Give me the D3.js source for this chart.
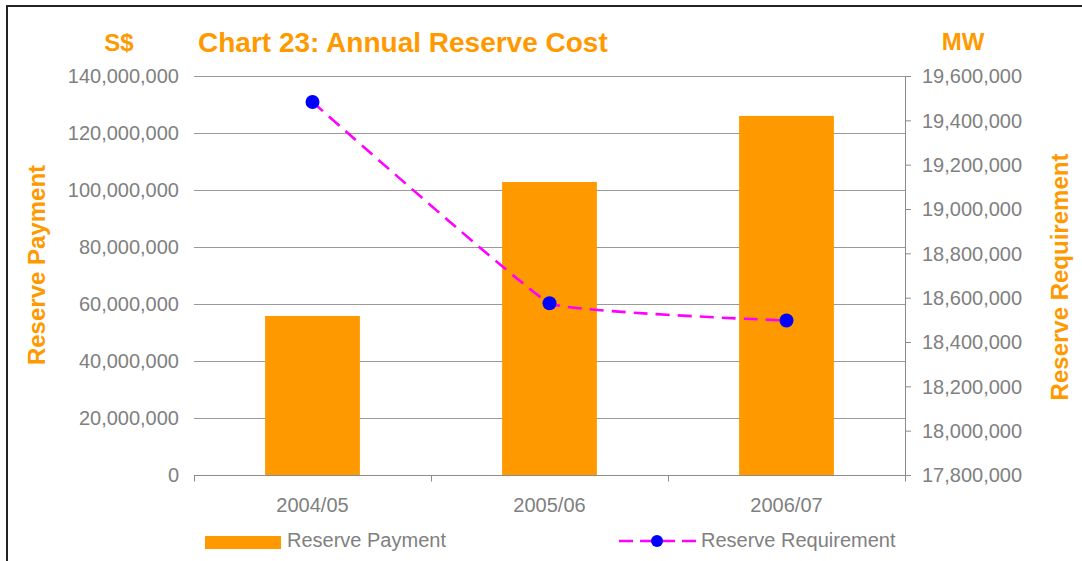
<!DOCTYPE html>
<html>
<head>
<meta charset="utf-8">
<script src="https://cdn.jsdelivr.net/npm/d3@7"></script>
<style>
  body { margin: 0; background: #fff; }
  svg { display: block; font-family: "Liberation Sans", Arial, sans-serif; }
</style>
</head>
<body>
<div id="chart"></div>
<script>
// chart data
var years = ["2004/05", "2005/06", "2006/07"];
var payment = [55800000, 102800000, 126000000];        // S$, bars
var requirement = [19483000, 18575000, 18497000];      // MW, line
var leftTicks = [0, 20000000, 40000000, 60000000, 80000000, 100000000, 120000000, 140000000];
var rightTicks = [17800000, 18000000, 18200000, 18400000, 18600000, 18800000, 19000000, 19200000, 19400000, 19600000];

var orange = "#FF9900",
    grey = "#808080";

var svg = d3.select("#chart").append("svg")
    .attr("width", 1082)
    .attr("height", 561);

// outer frame (right and bottom edges fall outside the picture)
svg.append("rect")
    .attr("x", 7).attr("y", 6)
    .attr("width", 1100).attr("height", 600)
    .attr("fill", "none")
    .attr("stroke", "#222")
    .attr("stroke-width", 2);

var plot = { left: 194, right: 905, top: 76, bottom: 475 };

var x = d3.scaleBand()
    .domain(years)
    .range([plot.left, plot.right])
    .paddingInner(0.6)
    .paddingOuter(0.3);

var yLeft = d3.scaleLinear()
    .domain([0, 140000000])
    .range([plot.bottom, plot.top]);

var yRight = d3.scaleLinear()
    .domain([17800000, 19600000])
    .range([plot.bottom, plot.top]);

var fmt = d3.format(",");

// gridlines from the left axis
svg.append("g")
    .selectAll("line")
    .data(leftTicks)
    .join("line")
    .attr("x1", plot.left).attr("x2", plot.right)
    .attr("y1", d => yLeft(d) + 0.5).attr("y2", d => yLeft(d) + 0.5)
    .attr("stroke", "#9a9a9a")
    .attr("stroke-width", 1);

// left tick labels
svg.append("g")
    .selectAll("text")
    .data(leftTicks)
    .join("text")
    .attr("x", 179)
    .attr("y", d => yLeft(d))
    .attr("dy", "0.36em")
    .attr("text-anchor", "end")
    .attr("fill", grey)
    .style("font-size", "20px")
    .text(d => fmt(d));

// bars
svg.append("g")
    .selectAll("rect")
    .data(years)
    .join("rect")
    .attr("x", d => x(d))
    .attr("width", x.bandwidth())
    .attr("y", (d, i) => yLeft(payment[i]))
    .attr("height", (d, i) => plot.bottom - yLeft(payment[i]))
    .attr("fill", orange);

// x axis line and category ticks
var xAxis = svg.append("g")
    .attr("transform", "translate(0," + (plot.bottom + 0.5) + ")");
xAxis.append("line")
    .attr("x1", plot.left).attr("x2", plot.right)
    .attr("stroke", "#8c8c8c");
var bounds = years.map(d => x(d) - x.step() * x.paddingInner() / 2);
bounds.push(plot.right);
bounds[0] = plot.left;
xAxis.selectAll("line.tick")
    .data(bounds)
    .join("line")
    .attr("class", "tick")
    .attr("x1", d => d + 0.5).attr("x2", d => d + 0.5)
    .attr("y1", 0).attr("y2", 6)
    .attr("stroke", "#8c8c8c");
xAxis.selectAll("text")
    .data(years)
    .join("text")
    .attr("x", d => x(d) + x.bandwidth() / 2)
    .attr("y", 36)
    .attr("text-anchor", "middle")
    .attr("fill", grey)
    .style("font-size", "20px")
    .text(d => d);

// right axis
var rAxis = svg.append("g");
rAxis.append("line")
    .attr("x1", plot.right + 0.5).attr("x2", plot.right + 0.5)
    .attr("y1", plot.top).attr("y2", plot.bottom + 6)
    .attr("stroke", "#8c8c8c");
rAxis.selectAll("line.tick")
    .data(rightTicks)
    .join("line")
    .attr("class", "tick")
    .attr("x1", plot.right).attr("x2", plot.right + 6)
    .attr("y1", d => yRight(d) + 0.5).attr("y2", d => yRight(d) + 0.5)
    .attr("stroke", "#8c8c8c");
rAxis.selectAll("text")
    .data(rightTicks)
    .join("text")
    .attr("x", 922)
    .attr("y", d => yRight(d))
    .attr("dy", "0.36em")
    .attr("fill", grey)
    .style("font-size", "20px")
    .text(d => fmt(d));

// requirement line - only lightly smoothed, almost straight between points
var line = d3.line()
    .x((d, i) => x(years[i]) + x.bandwidth() / 2)
    .y(d => yRight(d))
    .curve(d3.curveCardinal.tension(0.75));

svg.append("path")
    .datum(requirement)
    .attr("d", line)
    .attr("fill", "none")
    .attr("stroke", "#FF00FF")
    .attr("stroke-width", 2.6)
    .attr("stroke-dasharray", "14,8");

svg.append("g")
    .selectAll("circle")
    .data(requirement)
    .join("circle")
    .attr("cx", (d, i) => x(years[i]) + x.bandwidth() / 2)
    .attr("cy", d => yRight(d))
    .attr("r", 7)
    .attr("fill", "#0000FF");

// titles
svg.append("text")
    .attr("x", 198).attr("y", 52)
    .attr("fill", orange)
    .style("font-size", "28px")
    .style("font-weight", "bold")
    .text("Chart 23: Annual Reserve Cost");

svg.append("text")
    .attr("x", 119).attr("y", 51)
    .attr("text-anchor", "middle")
    .attr("fill", orange)
    .style("font-size", "24px")
    .style("font-weight", "bold")
    .text("S$");

svg.append("text")
    .attr("x", 963).attr("y", 50)
    .attr("text-anchor", "middle")
    .attr("fill", orange)
    .style("font-size", "24px")
    .style("font-weight", "bold")
    .text("MW");

svg.append("text")
    .attr("transform", "translate(45,265) rotate(-90)")
    .attr("text-anchor", "middle")
    .attr("fill", orange)
    .style("font-size", "24px")
    .style("font-weight", "bold")
    .text("Reserve Payment");

svg.append("text")
    .attr("transform", "translate(1068,277) rotate(-90)")
    .attr("text-anchor", "middle")
    .attr("fill", orange)
    .style("font-size", "24px")
    .style("font-weight", "bold")
    .text("Reserve Requirement");

// legend
var legend = svg.append("g");
legend.append("rect")
    .attr("x", 205).attr("y", 536)
    .attr("width", 76).attr("height", 13)
    .attr("fill", orange);
legend.append("text")
    .attr("x", 287).attr("y", 547)
    .attr("fill", grey)
    .style("font-size", "20px")
    .text("Reserve Payment");

legend.append("line")
    .attr("x1", 619).attr("x2", 696)
    .attr("y1", 541).attr("y2", 541)
    .attr("stroke", "#FF00FF")
    .attr("stroke-width", 2.6)
    .attr("stroke-dasharray", "14,7");
legend.append("circle")
    .attr("cx", 657).attr("cy", 541)
    .attr("r", 6)
    .attr("fill", "#0000FF");
legend.append("text")
    .attr("x", 701).attr("y", 547)
    .attr("fill", grey)
    .style("font-size", "20px")
    .text("Reserve Requirement");
</script>
</body>
</html>
